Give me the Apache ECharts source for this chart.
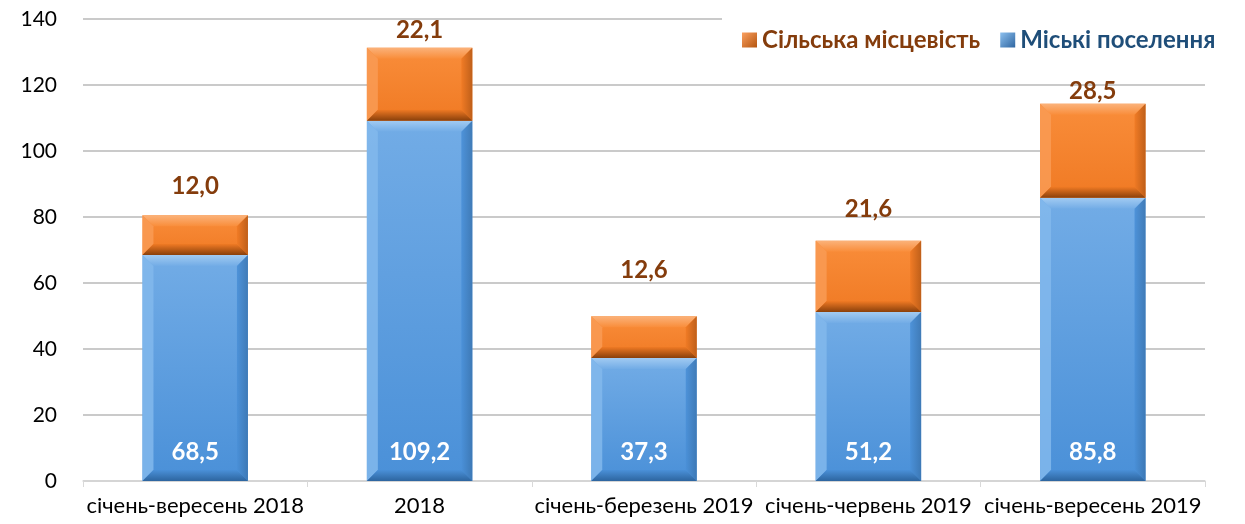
<!DOCTYPE html>
<html>
<head>
<meta charset="utf-8">
<style>
  html, body { margin: 0; padding: 0; background: #fff; }
  #chart { width: 1245px; height: 524px; }
</style>
<script src="https://cdn.jsdelivr.net/npm/echarts@6/dist/echarts.min.js"></script>
</head>
<body>
<div id="chart"></div>
<script>
const categories = ['січень-вересень 2018', '2018', 'січень-березень 2019', 'січень-червень 2019', 'січень-вересень 2019'];
const urban = [68.5, 109.2, 37.3, 51.2, 85.8];
const rural = [12.0, 22.1, 12.6, 21.6, 28.5];
const yTicks = [0, 20, 40, 60, 80, 100, 120, 140];
// how far the rural labels sit above the bar tops (px), as placed in the original
const ruralLabelGap = [29, 17, 46, 31, 13];

const FONT = 'Lato, "Noto Sans", sans-serif';

const palBlue = {
  face: ['#72ace6', '#4a90d8'],
  top: '#a2cbf2', left: '#82b8ec', right: '#3b76b2', bottom: '#2d659f'
};
const palOrange = {
  face: ['#f98d3a', '#f07a24'],
  top: '#fbb27a', left: '#f99b55', right: '#b95b17', bottom: '#8a400b'
};

function fmt(v) {
  return v.toFixed(1).replace('.', ',');
}

function makeRender(pal, labelFn) {
  return function (params, api) {
    const i = api.value(0);
    const p0 = api.coord([i, api.value(1)]);
    const p1 = api.coord([i, api.value(2)]);
    const w = api.size([1, 0])[0] * 0.47;
    const x0 = p0[0] - w / 2, x1 = x0 + w;
    const y0 = p1[1], y1 = p0[1];
    const b = Math.min(11, (y1 - y0) / 2, w / 2);
    const grad = (c1, c2, h) => new echarts.graphic.LinearGradient(h ? 1 : 0, 0, 0, h ? 0 : 1, [
      { offset: 0, color: c1 }, { offset: 1, color: c2 }
    ]);
    const children = [
      { type: 'rect', shape: { x: x0, y: y0, width: w, height: y1 - y0 },
        style: { fill: grad(pal.face[0], pal.face[1]) } },
      { type: 'polygon', shape: { points: [[x0, y0], [x1, y0], [x1 - b, y0 + b], [x0 + b, y0 + b]] },
        style: { fill: grad(pal.top, pal.face[0]) } },
      { type: 'polygon', shape: { points: [[x0, y0], [x0 + b, y0 + b], [x0 + b, y1 - b], [x0, y1]] },
        style: { fill: pal.left, opacity: 0.85 } },
      { type: 'polygon', shape: { points: [[x1, y0], [x1 - b, y0 + b], [x1 - b, y1 - b], [x1, y1]] },
        style: { fill: grad(pal.right, pal.face[1], true), opacity: 0.9 } },
      { type: 'polygon', shape: { points: [[x0, y1], [x1, y1], [x1 - b, y1 - b], [x0 + b, y1 - b]] },
        style: { fill: grad(pal.face[1], pal.bottom) } }
    ];
    const lab = labelFn(params.dataIndex, p0[0], y0, y1);
    if (lab) children.push(lab);
    return { type: 'group', children: children };
  };
}

const chart = echarts.init(document.getElementById('chart'));

const option = {
  animation: false,
  grid: { left: 83, right: 40, top: 19, bottom: 43 },
  legend: {
    left: 722,
    top: 0,
    width: 510,
    padding: [28, 0, 14, 20],
    backgroundColor: '#fff',
    itemWidth: 15,
    itemHeight: 15,
    itemGap: 20,
    icon: 'rect',
    textStyle: { fontFamily: FONT, fontSize: 24, fontWeight: 'bold' },
    data: [
      { name: 'Сільська місцевість', itemStyle: { color: new echarts.graphic.LinearGradient(0, 0, 1, 1, [{ offset: 0, color: '#fba060' }, { offset: 1, color: '#b4550f' }]) }, textStyle: { color: '#843c0c' } },
      { name: 'Міські поселення', itemStyle: { color: new echarts.graphic.LinearGradient(0, 0, 1, 1, [{ offset: 0, color: '#8cc0ef' }, { offset: 1, color: '#2f65a0' }]) }, textStyle: { color: '#1f4e79' } }
    ]
  },
  xAxis: {
    type: 'category',
    data: categories,
    axisLine: { lineStyle: { color: '#d9d9d9', width: 1.5 } },
    axisTick: { show: true, length: 6, lineStyle: { color: '#d9d9d9' } },
    axisLabel: { color: '#000', fontFamily: FONT, fontSize: 22, margin: 14, interval: 0 }
  },
  yAxis: {
    type: 'value',
    min: yTicks[0],
    max: yTicks[yTicks.length - 1],
    interval: 20,
    axisLine: { show: false },
    axisTick: { show: false },
    axisLabel: { color: '#000', fontFamily: FONT, fontSize: 21, margin: 26 },
    splitLine: { lineStyle: { color: '#b8b8b8', width: 1.5 } }
  },
  series: [
    {
      name: 'Міські поселення',
      type: 'custom',
      itemStyle: { color: '#5b9bd5' },
      encode: { x: 0, y: [1, 2] },
      data: urban.map((v, i) => [i, 0, v]),
      renderItem: makeRender(palBlue, (idx, cx, yTop, yBot) => ({
        type: 'text',
        z2: 10,
        style: {
          text: fmt(urban[idx]), x: cx, y: yBot - 29,
          align: 'center', verticalAlign: 'middle',
          fill: '#fff', fontFamily: FONT, fontSize: 24, fontWeight: 'bold'
        }
      }))
    },
    {
      name: 'Сільська місцевість',
      type: 'custom',
      itemStyle: { color: '#f47f2c' },
      encode: { x: 0, y: [1, 2] },
      data: rural.map((v, i) => [i, urban[i], urban[i] + v]),
      renderItem: makeRender(palOrange, (idx, cx, yTop) => ({
        type: 'text',
        z2: 10,
        style: {
          text: fmt(rural[idx]), x: cx, y: yTop - ruralLabelGap[idx],
          align: 'center', verticalAlign: 'middle',
          fill: '#843c0c', fontFamily: FONT, fontSize: 24, fontWeight: 'bold'
        }
      }))
    }
  ]
};

chart.setOption(option);
</script>
</body>
</html>
